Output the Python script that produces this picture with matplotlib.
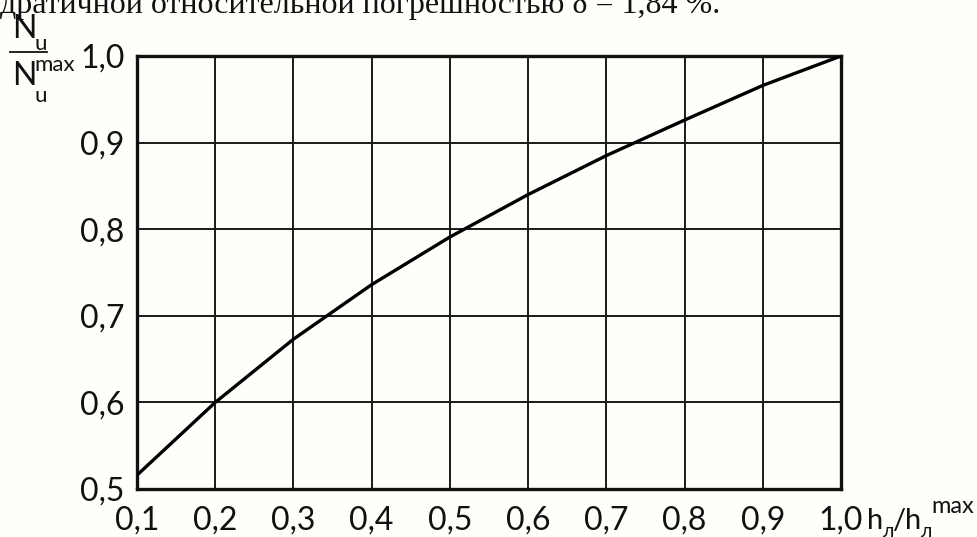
import numpy as np
import matplotlib.pyplot as plt
from matplotlib.lines import Line2D

plt.rcParams['font.family'] = ['Lato', 'DejaVu Sans']

# values
h_ratio = [0.1, 0.2, 0.3, 0.4, 0.5, 0.6, 0.7, 0.8, 0.9, 1.0]
n_ratio = [0.516, 0.600, 0.673, 0.736, 0.791, 0.840, 0.885, 0.926, 0.966, 1.0]

x_ticks = [0.1, 0.2, 0.3, 0.4, 0.5, 0.6, 0.7, 0.8, 0.9, 1.0]
x_tick_labels = ['0,1', '0,2', '0,3', '0,4', '0,5', '0,6', '0,7', '0,8', '0,9', '1,0']
y_ticks = [0.5, 0.6, 0.7, 0.8, 0.9, 1.0]
y_tick_labels = ['0,5', '0,6', '0,7', '0,8', '0,9', '1,0']
caption = 'дратичной относительной погрешностью δ = 1,84 %.'

W, H = 978, 537
bg = '#fefefb'
ink = '#111111'


def px(x, y):
    return x / W, 1 - y / H


fig = plt.figure(figsize=(W / 100, H / 100), dpi=100, facecolor=bg)
ax = fig.add_axes([137 / W, 1 - 489 / H, (841 - 137) / W, (489 - 56) / H])
ax.set_facecolor(bg)

ax.plot(h_ratio, n_ratio, color='black', lw=2.4, zorder=3)
ax.set_xlim(0.1, 1.0)
ax.set_ylim(0.5, 1.0)
ax.set_xticks(x_ticks, x_tick_labels)
ax.set_yticks(y_ticks, y_tick_labels)
ax.grid(True, color='#1a1a1a', lw=1.4)
ax.tick_params(length=0, labelsize=23, colors=ink)
ax.tick_params(axis='x', pad=12)
ax.tick_params(axis='y', pad=9)
for s in ax.spines.values():
    s.set_linewidth(2.4)
    s.set_color(ink)

# caption line cut off at the top
fig.text(*px(0, 13), caption, family='Liberation Serif', fontsize=23,
         va='baseline', ha='left', color=ink)

# y label: N_u / N_u^max
big, small = 23, 16
fig.text(*px(12, 38), 'N', fontsize=big, va='baseline', color=ink)
fig.text(*px(34, 50), 'u', fontsize=small, va='baseline', color=ink)
fig.add_artist(Line2D([10 / W, 47 / W], [1 - 52 / H, 1 - 52 / H],
                      color=ink, lw=1.3))
fig.text(*px(12, 85), 'N', fontsize=big, va='baseline', color=ink)
fig.text(*px(34, 71), 'max', fontsize=small, va='baseline', color=ink)
fig.text(*px(34, 102), 'u', fontsize=small, va='baseline', color=ink)

# x label: h_л / h_л^max
fig.text(*px(867, 529), 'h', fontsize=21, va='baseline', color=ink)
fig.text(*px(882, 537), 'л', fontsize=14, va='baseline', color=ink)
fig.text(*px(892, 529), '/', fontsize=21, va='baseline', color=ink)
fig.text(*px(905, 529), 'h', fontsize=21, va='baseline', color=ink)
fig.text(*px(920, 537), 'л', fontsize=14, va='baseline', color=ink)
fig.text(*px(931, 513), 'max', fontsize=17, va='baseline', color=ink)

fig.savefig('out.png', dpi=100, facecolor=bg)
